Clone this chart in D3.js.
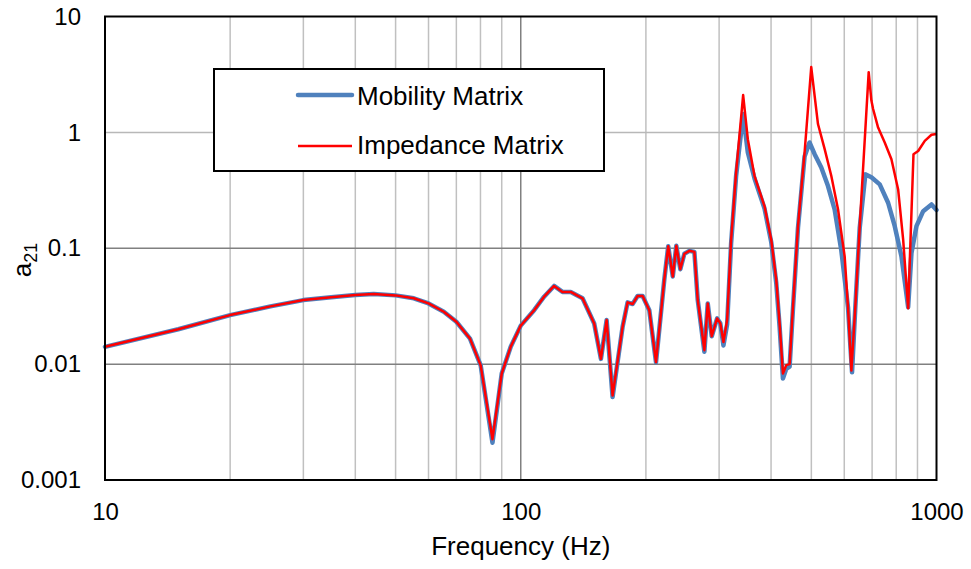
<!DOCTYPE html>
<html>
<head>
<meta charset="utf-8">
<script src="https://cdn.jsdelivr.net/npm/d3@7"></script>
<style>
  body { margin: 0; background: #fff; }
  svg { display: block; font-family: "Liberation Sans", Arial, sans-serif; }
</style>
</head>
<body>
<svg id="chart"></svg>
<script>
// Frequency (Hz) and a21 values
const mobilityFreq = [10, 15, 20, 25, 30, 35, 40, 44.3, 50, 55.3, 60, 65.3, 70, 75.5, 80.1, 85.5, 90, 94.6, 100,
  107.7, 113.8, 120.3, 126, 131.9, 140.8, 150.2, 155.9, 160.9, 166.3, 175.8, 180.7, 185.8, 191, 196.4,
  203.8, 211.5, 221.4, 226.3, 232.1, 236.7, 242, 247.5, 254.4, 261.6, 266.5, 276.5, 281.7, 288, 296.7,
  302, 307.3, 313.6, 320.6, 329.6, 342.7, 351.7, 365, 385.8, 400.4, 411.7, 419.4, 427.2, 435.2, 443.3,
  451.6, 464.3, 481.6, 495, 509.2, 528.3, 548.3, 568.8, 590, 612.5, 626.4, 637.9, 653.6, 674.4, 697.3,
  730.2, 764.9, 793.5, 823.6, 854.7, 870.6, 895, 928.9, 972.7, 1000];
const mobilityA21 = [0.0141, 0.0200, 0.0265, 0.0315, 0.0357, 0.0378, 0.0395, 0.0403, 0.0392, 0.037, 0.0334, 0.0283, 0.0232, 0.0166, 0.00975, 0.0021, 0.0083, 0.0141, 0.0215,
  0.0292, 0.0382, 0.0473, 0.042, 0.042, 0.037, 0.0224, 0.0111, 0.024, 0.0052, 0.021, 0.0341, 0.033, 0.0387, 0.0387,
  0.0292, 0.0104, 0.0533, 0.104, 0.057, 0.105, 0.066, 0.0896, 0.095, 0.093, 0.0357, 0.0128, 0.0334, 0.0174, 0.0248,
  0.0225, 0.0145, 0.022, 0.11, 0.42, 1.44, 0.67, 0.40, 0.22, 0.113, 0.05, 0.021, 0.0075, 0.0091, 0.0095,
  0.03, 0.15, 0.62, 0.818, 0.648, 0.497, 0.344, 0.216, 0.097, 0.031, 0.0085, 0.031, 0.15, 0.434, 0.41,
  0.356, 0.247, 0.155, 0.085, 0.031, 0.091, 0.155, 0.209, 0.239, 0.214];

const impedanceFreq = [10, 15, 20, 25, 30, 35, 40, 44.3, 50, 55.3, 60, 65.3, 70, 75.5, 80.1, 85.5, 90, 94.6, 100,
  107.7, 113.8, 120.3, 126, 131.9, 140.8, 150.2, 155.9, 160.9, 166.3, 175.8, 180.7, 185.8, 191, 196.4,
  203.8, 211.5, 221.4, 226.3, 232.1, 236.7, 242, 247.5, 254.4, 261.6, 266.5, 276.5, 281.7, 288, 296.7,
  302, 307.3, 313.6, 320.6, 329.6, 342.7, 351.7, 365, 385.8, 400.4, 411.7, 419.4, 427.2, 435.2, 443.3,
  451.6, 464.3, 481.6, 499.7, 518.7, 538.3, 558.5, 579.7, 601.3, 612.5, 624.1, 637.9, 653.6, 686.9, 697.3,
  703.9, 723.7, 750.7, 779.1, 808.6, 831.4, 854.7, 880.3, 903.5, 937.2, 972.7, 1000];
const impedanceA21 = [0.0141, 0.0200, 0.0265, 0.0315, 0.0357, 0.0378, 0.0395, 0.0403, 0.0392, 0.037, 0.0334, 0.0283, 0.0232, 0.0166, 0.00975, 0.00225, 0.0083, 0.0141, 0.0215,
  0.0292, 0.0382, 0.0473, 0.042, 0.042, 0.037, 0.0224, 0.0111, 0.024, 0.00535, 0.021, 0.0341, 0.033, 0.0387, 0.0387,
  0.0292, 0.0104, 0.0533, 0.104, 0.057, 0.105, 0.066, 0.0896, 0.095, 0.093, 0.0357, 0.0132, 0.0334, 0.0174, 0.0248,
  0.0225, 0.0155, 0.024, 0.1186, 0.449, 2.10, 0.874, 0.42, 0.23, 0.1186, 0.0533, 0.0224, 0.0083, 0.0098, 0.0100,
  0.0313, 0.1546, 0.67, 3.66, 1.18, 0.716, 0.42, 0.216, 0.085, 0.031, 0.0088, 0.0313, 0.155, 3.31, 1.88,
  1.59, 1.10, 0.818, 0.586, 0.322, 0.1186, 0.0303, 0.648, 0.69, 0.845, 0.953, 0.97];

const xTicks = [10, 100, 1000];
const xMinorTicks = [20, 30, 40, 50, 60, 70, 80, 90, 200, 300, 400, 500, 600, 700, 800, 900];
const yTicks = [0.001, 0.01, 0.1, 1, 10];
const seriesNames = ['Mobility Matrix', 'Impedance Matrix'];

const width = 971, height = 569;
const marginLeft = 105, marginRight = 34.5, marginTop = 16.5, marginBottom = 89;

const svg = d3.select('#chart')
  .attr('width', width)
  .attr('height', height)
  .attr('viewBox', [0, 0, width, height]);

const x = d3.scaleLog([10, 1000], [marginLeft, width - marginRight]);
const y = d3.scaleLog([0.001, 10], [height - marginBottom, marginTop]);

// Vertical minor gridlines
svg.append('g')
  .selectAll('line')
  .data(xMinorTicks)
  .join('line')
  .attr('x1', d => x(d)).attr('x2', d => x(d))
  .attr('y1', marginTop).attr('y2', height - marginBottom)
  .attr('stroke', '#c0c0c0')
  .attr('stroke-width', 1.5);

// Major gridlines
svg.append('g')
  .selectAll('line')
  .data([100])
  .join('line')
  .attr('x1', d => x(d)).attr('x2', d => x(d))
  .attr('y1', marginTop).attr('y2', height - marginBottom)
  .attr('stroke', '#808080')
  .attr('stroke-width', 1.5);

svg.append('g')
  .selectAll('line')
  .data(yTicks.slice(1, -1))
  .join('line')
  .attr('x1', marginLeft).attr('x2', width - marginRight)
  .attr('y1', d => y(d)).attr('y2', d => y(d))
  .attr('stroke', d => d === 1 ? '#b8b8b8' : '#808080')
  .attr('stroke-width', 1.5);

// Axes
svg.append('g')
  .attr('transform', `translate(0,${height - marginBottom})`)
  .call(d3.axisBottom(x).tickValues(xTicks).tickFormat(d => String(d)).tickSize(0).tickPadding(23))
  .call(g => g.select('.domain').remove())
  .call(g => g.selectAll('text')
    .attr('font-size', 24)
    .attr('font-family', '"Liberation Sans", Arial, sans-serif')
    .attr('fill', '#000'));

svg.append('g')
  .attr('transform', `translate(${marginLeft},0)`)
  .call(d3.axisLeft(y).tickValues(yTicks).tickFormat(d => String(d)).tickSize(0).tickPadding(24))
  .call(g => g.select('.domain').remove())
  .call(g => g.selectAll('text')
    .attr('font-size', 24)
    .attr('font-family', '"Liberation Sans", Arial, sans-serif')
    .attr('fill', '#000'));

// Axis titles
svg.append('text')
  .attr('x', x(100))
  .attr('y', 555)
  .attr('text-anchor', 'middle')
  .attr('font-size', 26)
  .text('Frequency (Hz)');

svg.append('text')
  .attr('transform', `translate(31,260) rotate(-90)`)
  .attr('text-anchor', 'middle')
  .attr('font-size', 26)
  .call(t => t.append('tspan').text('a'))
  .call(t => t.append('tspan').attr('font-size', 18).attr('dy', 6).text('21'));

// Lines
const line = d3.line()
  .x(d => x(d[0]))
  .y(d => y(d[1]));

const mobility = d3.zip(mobilityFreq, mobilityA21);
const impedance = d3.zip(impedanceFreq, impedanceA21);

const plot = svg.append('g');
plot.append('path')
  .datum(mobility)
  .attr('fill', 'none')
  .attr('stroke', '#4f81bd')
  .attr('stroke-width', 4.5)
  .attr('stroke-linejoin', 'round')
  .attr('stroke-linecap', 'round')
  .attr('d', line);

plot.append('path')
  .datum(impedance)
  .attr('fill', 'none')
  .attr('stroke', '#ff0000')
  .attr('stroke-width', 2.5)
  .attr('stroke-linejoin', 'round')
  .attr('d', line);

// Plot frame
svg.append('rect')
  .attr('x', marginLeft)
  .attr('y', marginTop)
  .attr('width', width - marginLeft - marginRight)
  .attr('height', height - marginTop - marginBottom)
  .attr('fill', 'none')
  .attr('stroke', '#000')
  .attr('stroke-width', 2);

// Legend
const legend = svg.append('g');
legend.append('rect')
  .attr('x', 214).attr('y', 69)
  .attr('width', 390).attr('height', 102)
  .attr('fill', '#fff')
  .attr('stroke', '#000')
  .attr('stroke-width', 2);

const legendItems = legend.selectAll('g')
  .data(seriesNames)
  .join('g')
  .attr('transform', (_, i) => `translate(298,${i ? 146 : 95})`);

legendItems.append('line')
  .attr('x1', 0).attr('x2', 54)
  .attr('stroke', (_, i) => i ? '#ff0000' : '#4f81bd')
  .attr('stroke-width', (_, i) => i ? 2.5 : 4.5)
  .attr('stroke-linecap', (_, i) => i ? 'butt' : 'round');

legendItems.append('text')
  .attr('x', 59)
  .attr('y', (_, i) => i ? 7.5 : 9.5)
  .attr('font-size', 26)
  .text(d => d);
</script>
</body>
</html>
